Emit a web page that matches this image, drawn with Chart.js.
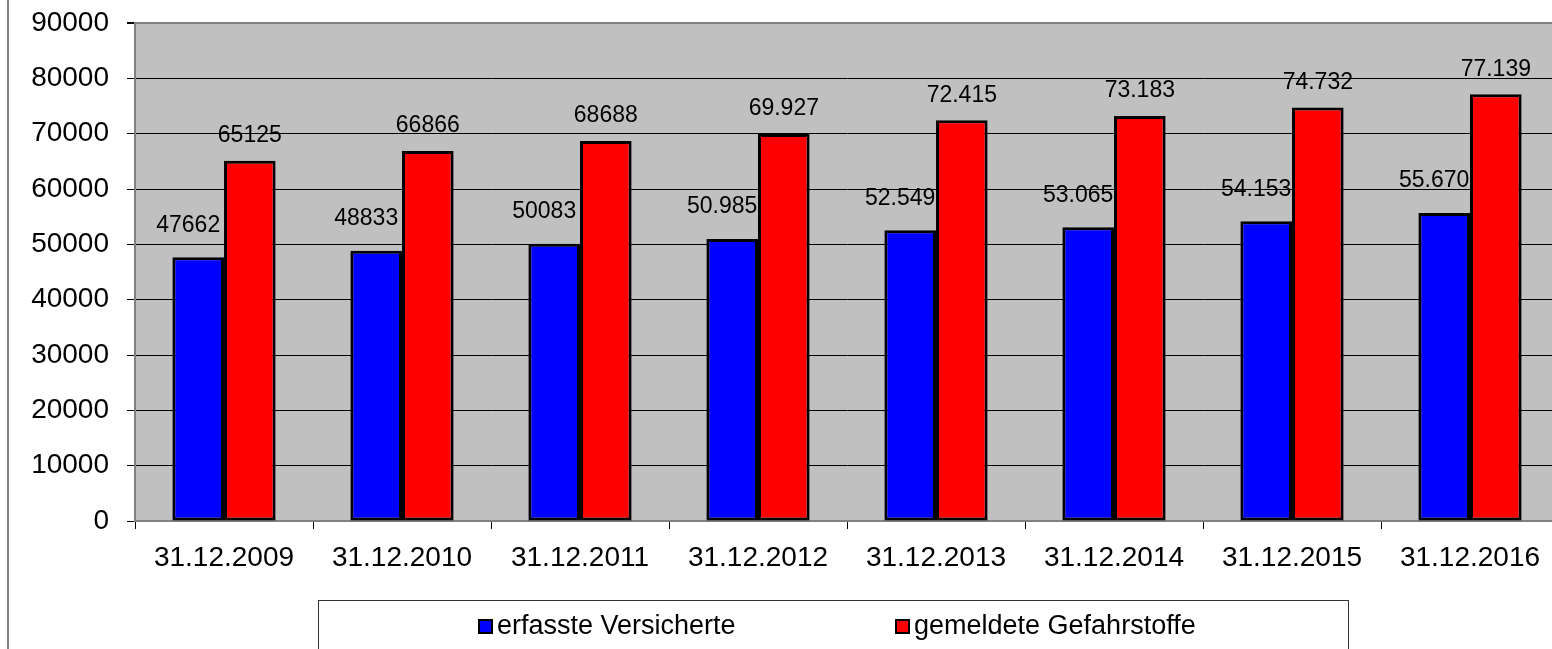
<!DOCTYPE html>
<html>
<head>
<meta charset="utf-8">
<script src="https://cdn.jsdelivr.net/npm/chart.js@4"></script>
<style>
  html, body { margin: 0; padding: 0; background: #fff; overflow: hidden; }
  #wrap { width: 1559px; height: 649px; }
</style>
</head>
<body>
<div id="wrap"><canvas id="chart" width="1559" height="649"></canvas></div>
<script>
// Daten
const stichtage = ['31.12.2009', '31.12.2010', '31.12.2011', '31.12.2012', '31.12.2013', '31.12.2014', '31.12.2015', '31.12.2016'];
const versicherte = [47662, 48833, 50083, 50985, 52549, 53065, 54153, 55670];
const gefahrstoffe = [65125, 66866, 68688, 69927, 72415, 73183, 74732, 77139];
// Beschriftungen wie im Original (ab 2012 mit Punkt)
const versicherteLabels = ['47662', '48833', '50083', '50.985', '52.549', '53.065', '54.153', '55.670'];
const gefahrstoffeLabels = ['65125', '66866', '68688', '69.927', '72.415', '73.183', '74.732', '77.139'];
const serienNamen = ['erfasste Versicherte', 'gemeldete Gefahrstoffe'];
const yTicks = [0, 10000, 20000, 30000, 40000, 50000, 60000, 70000, 80000, 90000];

const FONT = "'Liberation Sans', Arial, sans-serif";

// grauer Hintergrund + linker Rahmen
const hintergrund = {
  id: 'hintergrund',
  beforeDraw(chart) {
    const { ctx, chartArea: a } = chart;
    ctx.save();
    ctx.fillStyle = '#c0c0c0';
    ctx.fillRect(a.left, a.top, a.right - a.left, a.bottom - a.top);
    ctx.fillStyle = '#808080';
    ctx.fillRect(7, 0, 2, chart.height);
    ctx.restore();
  }
};

// Werte über den Balken
const werte = {
  id: 'werte',
  afterDatasetsDraw(chart) {
    const { ctx } = chart;
    const texte = [versicherteLabels, gefahrstoffeLabels];
    const abstand = [32, 25];
    const versatz = [-10, 0];
    ctx.save();
    ctx.font = '23px ' + FONT;
    ctx.fillStyle = '#000';
    ctx.textAlign = 'center';
    ctx.textBaseline = 'middle';
    chart.data.datasets.forEach((ds, i) => {
      chart.getDatasetMeta(i).data.forEach((bar, j) => {
        ctx.fillText(texte[i][j], bar.x + versatz[i], bar.y - abstand[i]);
      });
    });
    ctx.restore();
  }
};

// Legende unten mit Rahmen
const legende = {
  id: 'legende',
  afterDraw(chart) {
    const { ctx } = chart;
    ctx.save();
    ctx.strokeStyle = '#333';
    ctx.lineWidth = 1;
    ctx.strokeRect(318.5, 600.5, 1030, 120);
    const eintraege = [
      { x: 478, farbe: '#0000ff', text: serienNamen[0] },
      { x: 895, farbe: '#ff0000', text: serienNamen[1] }
    ];
    ctx.font = '27px ' + FONT;
    ctx.textBaseline = 'middle';
    ctx.textAlign = 'left';
    eintraege.forEach(e => {
      ctx.fillStyle = '#000';
      ctx.fillRect(e.x, 619, 15, 15);
      ctx.fillStyle = e.farbe;
      ctx.fillRect(e.x + 2, 621, 11, 11);
      ctx.fillStyle = '#000';
      ctx.fillText(e.text, e.x + 19, 627);
    });
    ctx.restore();
  }
};

new Chart(document.getElementById('chart'), {
  type: 'bar',
  data: {
    labels: stichtage,
    datasets: [
      {
        label: serienNamen[0],
        data: versicherte,
        backgroundColor: '#0000ff',
        borderColor: '#000',
        borderWidth: 3,
        borderSkipped: false
      },
      {
        label: serienNamen[1],
        data: gefahrstoffe,
        backgroundColor: '#ff0000',
        borderColor: '#000',
        borderWidth: 3,
        borderSkipped: false
      }
    ]
  },
  options: {
    responsive: false,
    animation: false,
    devicePixelRatio: 1,
    layout: { padding: { top: 23, left: 0, right: 0, bottom: 0 } },
    datasets: { bar: { categoryPercentage: 0.58, barPercentage: 1 } },
    plugins: {
      legend: { display: false },
      tooltip: { enabled: false }
    },
    scales: {
      x: {
        afterFit: s => { s.height = 128; s.paddingLeft = 0; s.paddingRight = 0; },
        grid: {
          display: true,
          drawOnChartArea: false,
          offset: true,
          tickLength: 8,
          color: '#000',
          tickColor: '#000'
        },
        border: { display: true, color: '#808080', width: 2 },
        ticks: {
          color: '#000',
          padding: 12,
          maxRotation: 0,
          autoSkip: false,
          font: { family: FONT, size: 28 }
        }
      },
      y: {
        min: 0,
        max: 90000,
        afterFit: s => { s.width = 135; s.paddingTop = 0; s.paddingBottom = 0; },
        afterBuildTicks: s => { s.ticks = yTicks.map(v => ({ value: v })); },
        grid: {
          color: c => (c.tick && c.tick.value === 90000 ? '#808080' : '#000'),
          lineWidth: c => (c.tick && c.tick.value === 90000 ? 2 : 1),
          tickLength: 8,
          tickColor: '#000'
        },
        border: { display: true, color: '#808080', width: 2 },
        ticks: {
          color: '#000',
          padding: 18,
          font: { family: FONT, size: 28 },
          callback: v => String(v)
        }
      }
    }
  },
  plugins: [hintergrund, werte, legende]
});
</script>
</body>
</html>
